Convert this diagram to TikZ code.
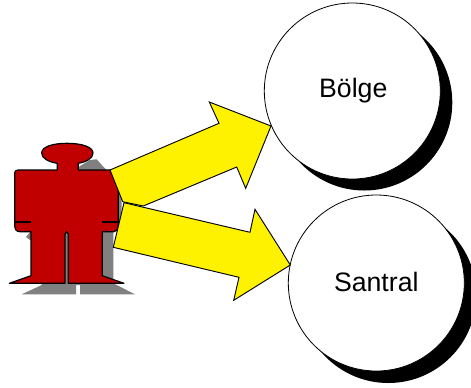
\documentclass[tikz,border=0pt]{standalone}
\usepackage{fontspec}
\setmainfont{Liberation Sans}
\definecolor{manred}{RGB}{192,0,0}
\definecolor{shade}{RGB}{128,128,128}
\tikzset{
  orb/.style={circle,draw=black,fill=white,line width=0.6pt,minimum size=132pt,inner sep=0pt,font=\fontsize{20pt}{22pt}\selectfont},
  orbshadow/.style={circle,fill=black,minimum size=132pt,inner sep=0pt},
  blockarrow/.style={draw=black,fill=yellow,line width=0.7pt,line join=miter},
  manbody/.style={draw=black,fill=manred,line width=0.9pt,line join=round},
  manshadow/.style={fill=shade},
  armline/.style={draw=black,line width=1.2pt}
}
\begin{document}
\begin{tikzpicture}[x=0.75pt,y=-0.75pt]
\useasboundingbox (0,0) rectangle (471,387);
% circles
\node[orbshadow] (s1) at (364.3,102.5) {};
\node[orb] (bolge) at (352.3,91) {\hspace*{1.5pt}Bölge};
\node[orbshadow] (s2) at (388.3,295) {};
\node[orb,text depth=1.5pt] (santral) at (376.3,283) {Santral};
% person shadow
\fill[manshadow] (80,166) -- (90,160) -- (96.7,159.3) -- (101.7,165) -- (106.7,170) -- (121.7,183) -- (121.7,230) -- (113.3,231.7) -- (113.3,283.3) -- (135,294.3) -- (80,294.3) -- (80,285) -- (76,285) -- (76,294.3) -- (21.7,294.3) -- (41.7,285) -- (41.7,240) -- (30,240) -- (26,237) -- (30,232) -- cycle;
% person
\draw[manbody] (57.3,163.3) -- (57.3,170) -- (18,170) .. controls (15.5,170) and (14.7,171.5) .. (14.7,173)
 -- (14.7,225) .. controls (14.7,229) and (16,231.7) .. (20,231.7) -- (31,231.7) -- (31,275.7) -- (9.3,283.3) -- (65,283.3) -- (65,234) -- (66.7,231.7) -- (68.3,234) -- (68.3,283.3) -- (124,283.3) -- (102.3,275.7) -- (102.3,231.7) -- (114,231.7) .. controls (116.5,231.7) and (118.3,229) .. (118.3,225)
 -- (118.3,175) -- (110,170) -- (78.3,170) -- (78.3,163.3) .. controls (86,162) and (93,158.5) .. (93,153) .. controls (93,147) and (82,143.3) .. (67,143.3) .. controls (52,143.3) and (41.7,147) .. (41.7,153) .. controls (41.7,158.5) and (49,162) .. (57.3,163.3) -- cycle;
\coordinate (al1) at (14.7,221.7);
\coordinate (al2) at (31,221.7);
\coordinate (ar1) at (102,221.7);
\coordinate (ar2) at (118.3,221.7);
\draw[armline] (al1) -- (al2);
\draw[armline] (ar1) -- (ar2);
% arrows
\draw[blockarrow] (110,170) -- (219,123.3) -- (209.3,102) -- (271,126) -- (245.7,188.3) -- (236.7,167) -- (143.3,206) -- (122.7,201.7) -- cycle;
\draw[blockarrow] (124,202.7) -- (250,232.3) -- (255,209.3) -- (290.3,265) -- (233.7,300.3) -- (239,277.3) -- (113.3,247.3) -- cycle;
\end{tikzpicture}
\end{document}
